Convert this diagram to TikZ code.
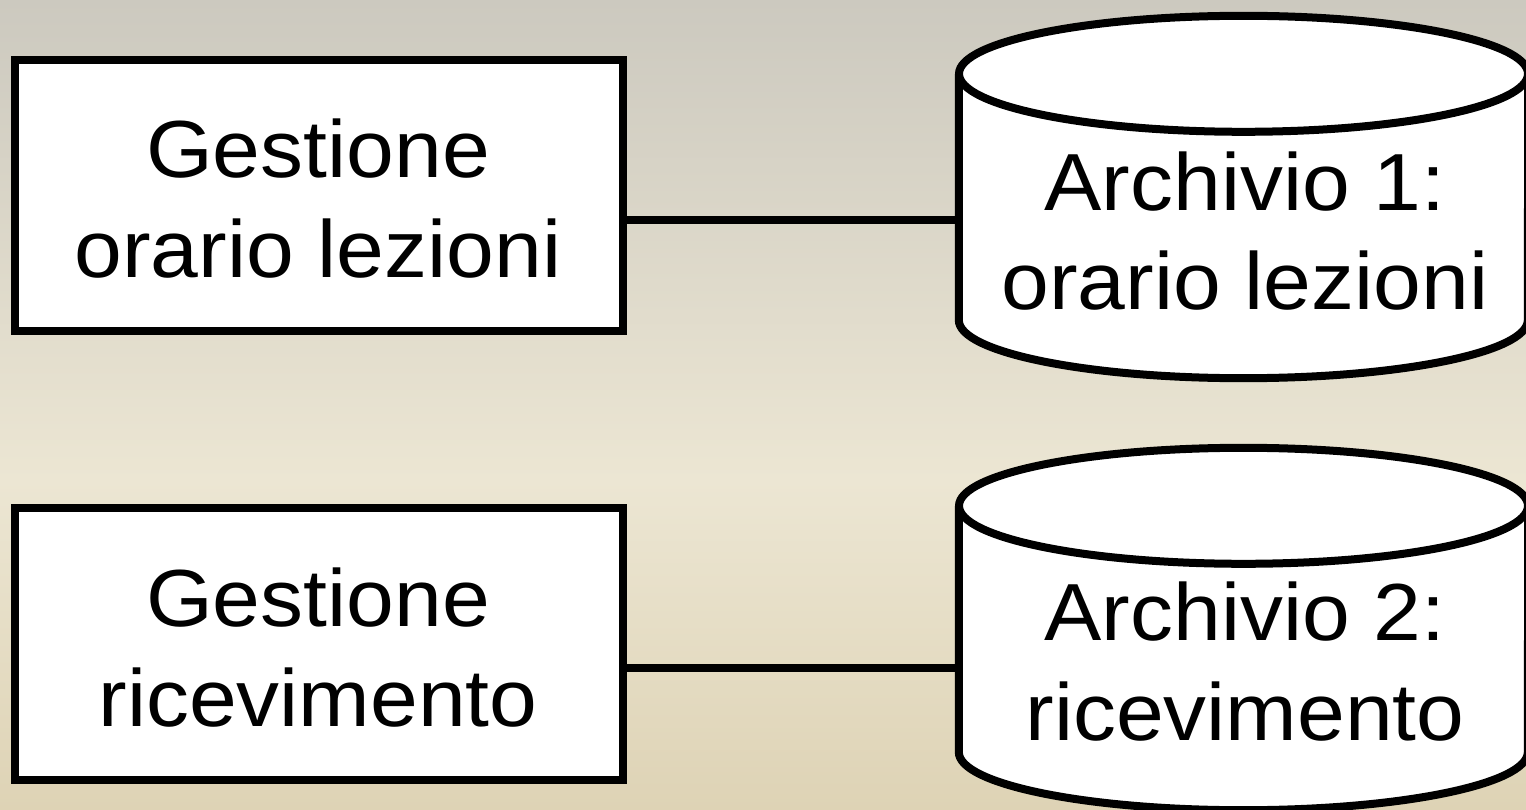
\documentclass[tikz,border=0pt]{standalone}
\usepackage{fontspec}
\setmainfont[FakeStretch=1.06]{Liberation Sans}
\definecolor{bgtop}{HTML}{CCC9BF}
\definecolor{bgmid}{HTML}{ECE6D3}
\definecolor{bgbot}{HTML}{DED3B5}
\tikzset{
  procbox/.style={draw=black, fill=white, line width=8pt, minimum width=608pt, minimum height=271pt, inner sep=0pt},
  body/.style={minimum width=569pt, inner sep=0pt},
  lbl/.style={font=\fontsize{81}{100}\selectfont, align=center, inner sep=0pt, text=black},
  link/.style={draw=black, line width=8pt},
  cylline/.style={draw=black, line width=8pt, line join=round}
}
\begin{document}
\begin{tikzpicture}[x=1pt,y=-1pt]
\useasboundingbox (0,0) rectangle (1526,810);
% background
\shade[top color=bgtop, bottom color=bgmid] (0,0) rectangle (1526,481);
\shade[top color=bgmid, bottom color=bgbot] (0,480) rectangle (1526,810);

% process boxes
\node[procbox] (p1) at (319,195.5) {};
\node[procbox, minimum height=272pt] (p2) at (319,644) {};

% cylinder bodies
\node[body, minimum height=246pt] (a1) at (1243.5,197) {};
\node[body, minimum height=246pt] (a2) at (1243.5,629) {};

% cylinders
\foreach \c in {a1,a2}{
  \fill[white] (\c.north west) -- (\c.south west)
     arc[start angle=180, end angle=360, x radius=284.5pt, y radius=58pt]
     -- (\c.north east)
     arc[start angle=0, end angle=180, x radius=284.5pt, y radius=58pt] -- cycle;
  \draw[cylline] (\c.north west) -- (\c.south west)
     arc[start angle=180, end angle=360, x radius=284.5pt, y radius=58pt]
     -- (\c.north east);
  \draw[cylline] (\c.north) ellipse[x radius=284.5pt, y radius=58pt];
}

% connectors
\coordinate (k1) at (0,220);
\coordinate (k2) at (0,668);
\draw[link] (p1.east |- k1) -- (a1.west |- k1);
\draw[link] (p2.east |- k2) -- (a2.west |- k2);

% labels
\node[lbl] (t1) at (318,208) {\strut Gestione\\\strut orario lezioni};
\node[lbl] (t2) at (318,656) {\strut Gestione\\\strut ricevimento};
\node[lbl] (t3) at (1245,240) {\strut Archivio 1:\\\strut orario lezioni};
\node[lbl] (t4) at (1245,670) {\strut Archivio 2:\\\strut ricevimento};
\end{tikzpicture}
\end{document}
